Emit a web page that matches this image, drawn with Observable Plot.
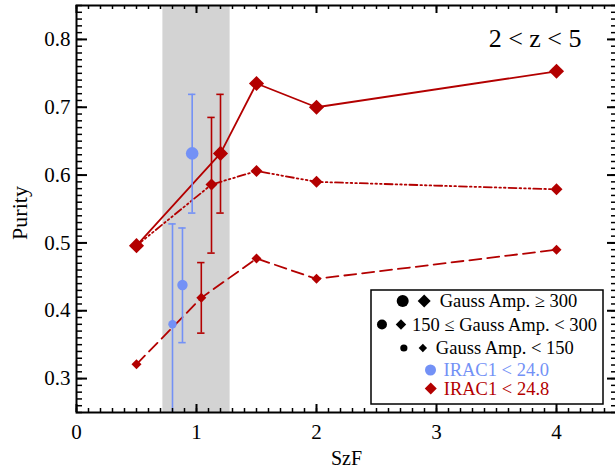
<!DOCTYPE html>
<html><head><meta charset="utf-8">
<script src="https://cdn.jsdelivr.net/npm/d3@7"></script>
<script src="https://cdn.jsdelivr.net/npm/@observablehq/plot@0.6"></script>
<style>
html,body{margin:0;padding:0;background:#fff;overflow:hidden}
#wrap{position:relative;width:615px;height:469px;overflow:hidden}
#wrap svg, #wrap svg text{font-family:"Liberation Serif","Times New Roman",Times,"DejaVu Serif",serif !important}
</style></head><body><div id="wrap"></div>
<script>
// ---- data ----
const bandX1 = [0.72];
const bandX2 = [1.28];
const redLargeX = [0.5, 1.2, 1.5, 2, 4];
const redLargeY = [0.496, 0.632, 0.735, 0.700, 0.753];
const redMedX = [0.5, 1.125, 1.5, 2, 4];
const redMedY = [0.496, 0.586, 0.606, 0.590, 0.579];
const redSmallX = [0.5, 1.04, 1.5, 2, 4];
const redSmallY = [0.321, 0.419, 0.477, 0.447, 0.490];
const redErrX = [1.2, 1.125, 1.04];
const redErrLo = [0.544, 0.485, 0.367];
const redErrHi = [0.719, 0.685, 0.471];
const blueX = [0.964, 0.883, 0.80];
const blueY = [0.632, 0.438, 0.380];
const blueLo = [0.544, 0.353, 0.20];
const blueHi = [0.719, 0.522, 0.528];
const xTicks = [0, 1, 2, 3, 4];
const yTicks = [0.3, 0.4, 0.5, 0.6, 0.7, 0.8];
const xMinorTicks = d3.range(0, 45).map(i => i / 10);
const yMinorTicks = d3.range(25, 86).map(i => i / 100);
const legendLabels = ["Gauss Amp. \u2265 300", "150 \u2264 Gauss Amp. < 300", "Gauss Amp. < 150", "IRAC1 < 24.0", "IRAC1 < 24.8"];
const panelLabel = "2 < z < 5";

// ---- styling ----
const FONT = '"Liberation Serif", "Times New Roman", Times, "DejaVu Serif", serif';
const red = "#b30000", blue = "#7391f6";
const W = 616, H = 469, mL = 76, mT = 5, mB = 57, mR = 0;
const fh = H - mT - mB, fw = W - mL - mR;
const xDomain = [0, 4.5], yDomain = [0.25, 0.85];

const pts = (xs, ys) => xs.map((x, i) => ({x, y: ys[i]}));
const errs = (xs, lo, hi) => xs.map((x, i) => ({x, lo: lo[i], hi: hi[i]}));
const band = bandX1.map((x1, i) => ({x1, x2: bandX2[i]}));
const redErr = errs(redErrX, redErrLo, redErrHi);
const blueErr = errs(blueX, blueLo, blueHi);
const bluePts = pts(blueX, blueY);

const errMarks = (data, color) => [
  Plot.ruleX(data, {x: "x", y1: "lo", y2: "hi", stroke: color, strokeWidth: 1.6}),
  Plot.ruleY(data, {y: "hi", x1: "x", x2: "x", insetLeft: -3.7, insetRight: -3.7, stroke: color, strokeWidth: 1.6}),
  Plot.ruleY(data.filter(d => d.lo >= yDomain[0]), {y: "lo", x1: "x", x2: "x", insetLeft: -3.7, insetRight: -3.7, stroke: color, strokeWidth: 1.6})
];

const svg = Plot.plot({
  width: W, height: H,
  marginLeft: mL, marginTop: mT, marginBottom: mB, marginRight: mR,
  style: {fontFamily: FONT, fontSize: "21px", color: "black", background: "white", maxWidth: "none"},
  x: {domain: xDomain},
  y: {domain: yDomain, clamp: true},
  marks: [
    Plot.rect(band, {x1: "x1", x2: "x2", fill: "#d3d3d3"}),
    Plot.line(pts(redLargeX, redLargeY), {x: "x", y: "y", stroke: red, strokeWidth: 1.8}),
    Plot.line(pts(redMedX, redMedY), {x: "x", y: "y", stroke: red, strokeWidth: 1.8, strokeDasharray: "8,3,1.6,3,1.6,3,1.6,3"}),
    Plot.line(pts(redSmallX, redSmallY), {x: "x", y: "y", stroke: red, strokeWidth: 1.8, strokeDasharray: "12,6"}),
    ...errMarks(blueErr, blue),
    ...errMarks(redErr, red),
    Plot.dot(pts(redLargeX, redLargeY), {x: "x", y: "y", symbol: "diamond2", r: 6.8, fill: red}),
    Plot.dot(pts(redMedX, redMedY), {x: "x", y: "y", symbol: "diamond2", r: 5.4, fill: red}),
    Plot.dot(pts(redSmallX, redSmallY), {x: "x", y: "y", symbol: "diamond2", r: 4.5, fill: red}),
    Plot.dot(bluePts.slice(0, 1), {x: "x", y: "y", r: 6.3, fill: blue}),
    Plot.dot(bluePts.slice(1, 2), {x: "x", y: "y", r: 5.2, fill: blue}),
    Plot.dot(bluePts.slice(2, 3), {x: "x", y: "y", r: 4.2, fill: blue}),
    // inward ticks on all four sides
    Plot.ruleX(xMinorTicks, {x: d => d, insetTop: fh - 4, strokeWidth: 1.5}),
    Plot.ruleX(xTicks, {x: d => d, insetTop: fh - 8, strokeWidth: 2}),
    Plot.ruleX(xMinorTicks, {x: d => d, insetBottom: fh - 4, strokeWidth: 1.5}),
    Plot.ruleX(xTicks, {x: d => d, insetBottom: fh - 8, strokeWidth: 2}),
    Plot.ruleY(yMinorTicks, {y: d => d, insetRight: fw - 6, strokeWidth: 1.5}),
    Plot.ruleY(yTicks, {y: d => d, insetRight: fw - 11, strokeWidth: 2}),
    Plot.ruleY(yMinorTicks, {y: d => d, insetLeft: fw - 5, strokeWidth: 1.5}),
    Plot.ruleY(yTicks, {y: d => d, insetLeft: fw - 9, strokeWidth: 2}),
    Plot.frame({stroke: "black", strokeWidth: 2}),
    Plot.axisX(xTicks, {tickSize: 0, tickPadding: 12, label: null, fontSize: 21, tickFormat: d => String(d)}),
    Plot.axisY(yTicks, {tickSize: 0, tickPadding: 6, label: null, fontSize: 21, tickFormat: d => d.toFixed(1)}),
    Plot.text(["SzF"], {frameAnchor: "bottom", dy: 46, lineAnchor: "middle", fontSize: 20, fontFamily: FONT}),
    Plot.text(["Purity"], {frameAnchor: "left", dx: -57, dy: 4, rotate: -90, textAnchor: "middle", lineAnchor: "middle", fontSize: 22, fontFamily: FONT}),
    Plot.text([panelLabel], {frameAnchor: "top-right", textAnchor: "end", dx: -35, dy: 33, lineAnchor: "middle", fontSize: 26, fontFamily: FONT})
  ]
});
document.getElementById("wrap").appendChild(svg);

// ---- legend box ----
const lg = d3.select(svg).append("g").attr("font-family", FONT).attr("font-size", 18.5).attr("text-anchor", "start");
lg.append("rect").attr("x", 371).attr("y", 290).attr("width", 232).attr("height", 114)
  .attr("fill", "white").attr("stroke", "black").attr("stroke-width", 1.5);
const legendSpec = [
  {y: 301, color: "black", syms: [{t: "c", s: 6, x: 0}, {t: "d", s: 6.5, x: 21.5}], tx: 37},
  {y: 324.5, color: "black", syms: [{t: "c", s: 5, x: 0}, {t: "d", s: 5.2, x: 19}], tx: 30},
  {y: 348, color: "black", syms: [{t: "c", s: 3.6, x: 0}, {t: "d", s: 4.2, x: 19}], tx: 32},
  {y: 370, color: blue, syms: [{t: "c", s: 5.5, x: 0}], tx: 13},
  {y: 388.5, color: red, syms: [{t: "d", s: 6, x: 0}], tx: 13}
];
legendSpec.forEach((row, i) => {
  const g = lg.append("g");
  row.syms.forEach(s => {
    if (s.t === "c") g.append("circle").attr("cx", s.x).attr("cy", 0).attr("r", s.s).attr("fill", row.color);
    else g.append("path").attr("d", `M${s.x},${-s.s}L${s.x + s.s},0L${s.x},${s.s}L${s.x - s.s},0Z`).attr("fill", row.color);
  });
  g.append("text").attr("x", row.tx).attr("y", 6.3).attr("text-anchor", "start").attr("fill", row.color).text(legendLabels[i]);
  const bb = g.node().getBBox();
  g.attr("transform", `translate(${487 - (bb.x + bb.width / 2)},${row.y})`);
});
</script></body></html>
